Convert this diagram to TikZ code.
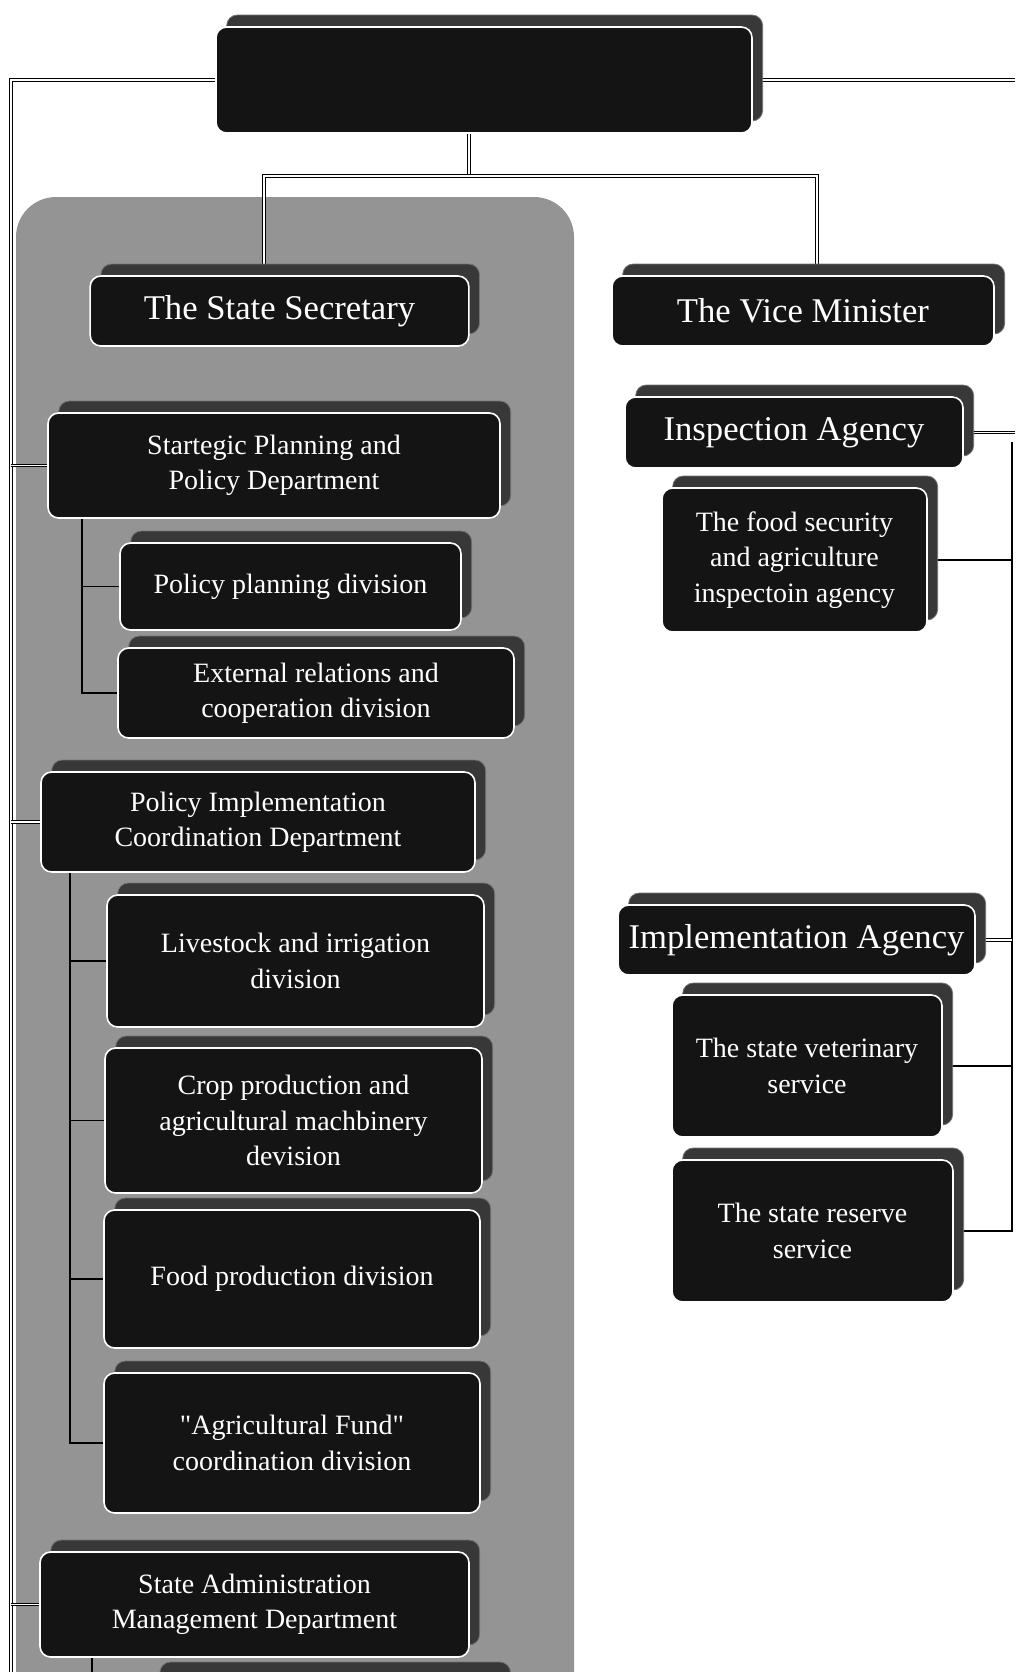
\documentclass[tikz,border=0pt]{standalone}
\usepackage{fontspec}
\setmainfont{Liberation Serif}[Ligatures=TeXOff]
\usepackage{tikz}
\usetikzlibrary{shadows, backgrounds, positioning}

\begin{document}
\begin{tikzpicture}[
    x=0.75pt, y=-0.75pt,
    unit/.style={rectangle, draw=white, line width=1.2pt, fill=black!92, text=white, rounded corners=8pt, align=center, inner sep=4pt, font=\fontsize{21}{26.5}\selectfont, copy shadow={shadow xshift=8pt, shadow yshift=9pt, fill=black!78, draw=black!55, line width=0.6pt}},
    bigunit/.style={unit, font=\fontsize{26}{30}\selectfont},
    link/.style={draw=black, double=white, double distance=1.3pt, line width=0.6pt},
    sublink/.style={draw=black, line width=0.9pt},
    panel/.style={fill=black!42, rounded corners=30pt}
]
    \useasboundingbox (0,0) rectangle (1015,1672);
    \clip (0,0) rectangle (1015,1672);

    % Minister
    \node (minister) [bigunit, minimum width=402pt, minimum height=79.5pt] at (484,80) {};

    % State secretary side
    \node (secr) [bigunit, minimum width=284pt, minimum height=52.5pt] at (279.5,311) {The State Secretary};
    \node (strat) [unit, minimum width=339pt, minimum height=78.75pt] at (274,465.5) {Startegic Planning and\\Policy Department};
    \node (polplan) [unit, minimum width=255.75pt, minimum height=65.25pt] at (290.5,586.5) {Policy planning division};
    \node (extrel) [unit, minimum width=297pt, minimum height=67.5pt] at (316,693) {External relations and\\cooperation division};
    \node (polimp) [unit, minimum width=325.5pt, minimum height=75pt] at (258,822) {Policy Implementation\\Coordination Department};
    \node (livestock) [unit, minimum width=282.75pt, minimum height=99pt] at (295.5,961) {Livestock and irrigation\\division};
    \node (crop) [unit, minimum width=282.75pt, minimum height=108.75pt] at (293.5,1120.5) {Crop production and\\agricultural machbinery\\devision};
    \node (foodprod) [unit, minimum width=282pt, minimum height=103.5pt] at (292,1279) {Food production division};
    \node (agrifund) [unit, minimum width=282pt, minimum height=105pt] at (292,1443) {"Agricultural Fund"\\coordination division};
    \node (admin) [unit, minimum width=321.75pt, minimum height=78.75pt] at (254.5,1604.5) {State Administration\\Management Department};
    \node (nextdept) [unit, minimum width=263pt, minimum height=64.5pt] at (324.5,1717) {};

    % Vice minister side
    \node (vice) [bigunit, minimum width=286.5pt, minimum height=52.5pt] at (803,311) {The Vice Minister};
    \node (inspect) [bigunit, minimum width=253.5pt, minimum height=53.25pt] at (794,432.5) {Inspection Agency};
    \node (foodsec) [unit, minimum width=198.75pt, minimum height=108pt] at (794.5,560) {The food security\\and agriculture\\inspectoin agency};
    \node (implag) [bigunit, minimum width=267.75pt, minimum height=52.5pt] at (796.5,940) {Implementation Agency};
    \node (vet) [unit, minimum width=202.5pt, minimum height=106.5pt] at (807,1066) {The state veterinary\\service};
    \node (reserve) [unit, minimum width=210.75pt, minimum height=106.5pt] at (812.5,1231) {The state reserve\\service};

    % free ends of the connectors
    \coordinate (redge) at (1015,0);
    \coordinate (ltrunk) at (11,1672);
    \coordinate (split) at (469,176);
    \coordinate (dropl) at (264,176);
    \coordinate (dropr) at (817,176);
    \coordinate (rtrunk) at (1012,442);
    \coordinate (stratbus) at (82,0);
    \coordinate (polbus) at (70,0);
    \coordinate (adminbus) at (92,1672);

    \begin{scope}[on background layer]
        \clip (0,0) rectangle (1015,1672);
        \fill[panel] (16,197) rectangle (574,1740);

        % Connectors
        \draw[link] (minister.west) -- (minister.west -| ltrunk) -- (ltrunk);
        \draw[link] (minister.east) -- (minister.east -| redge);
        \draw[link] (minister.south -| split) -- (split);
        \draw[link] (dropl |- secr.north) -- (dropl) -- (dropr) -- (dropr |- vice.north);
        \foreach \n in {strat, polimp, admin}
            \draw[link] (\n.west -| ltrunk) -- (\n.west);
        \draw[sublink] (strat.south -| stratbus) -- (stratbus |- extrel.west) -- (extrel.west);
        \draw[sublink] (stratbus |- polplan.west) -- (polplan.west);
        \draw[sublink] (polimp.south -| polbus) -- (polbus |- agrifund.west) -- (agrifund.west);
        \foreach \n in {livestock, crop, foodprod}
            \draw[sublink] (polbus |- \n.west) -- (\n.west);
        \draw[sublink] (admin.south -| adminbus) -- (adminbus);
        \draw[link] (inspect.east) -- (inspect.east -| redge);
        \draw[sublink] (rtrunk) -- (rtrunk |- reserve.east) -- (reserve.east);
        \draw[link] (implag.east) -- (implag.east -| rtrunk);
        \foreach \n in {foodsec, vet}
            \draw[sublink] (\n.east) -- (\n.east -| rtrunk);
    \end{scope}

\end{tikzpicture}
\end{document}
